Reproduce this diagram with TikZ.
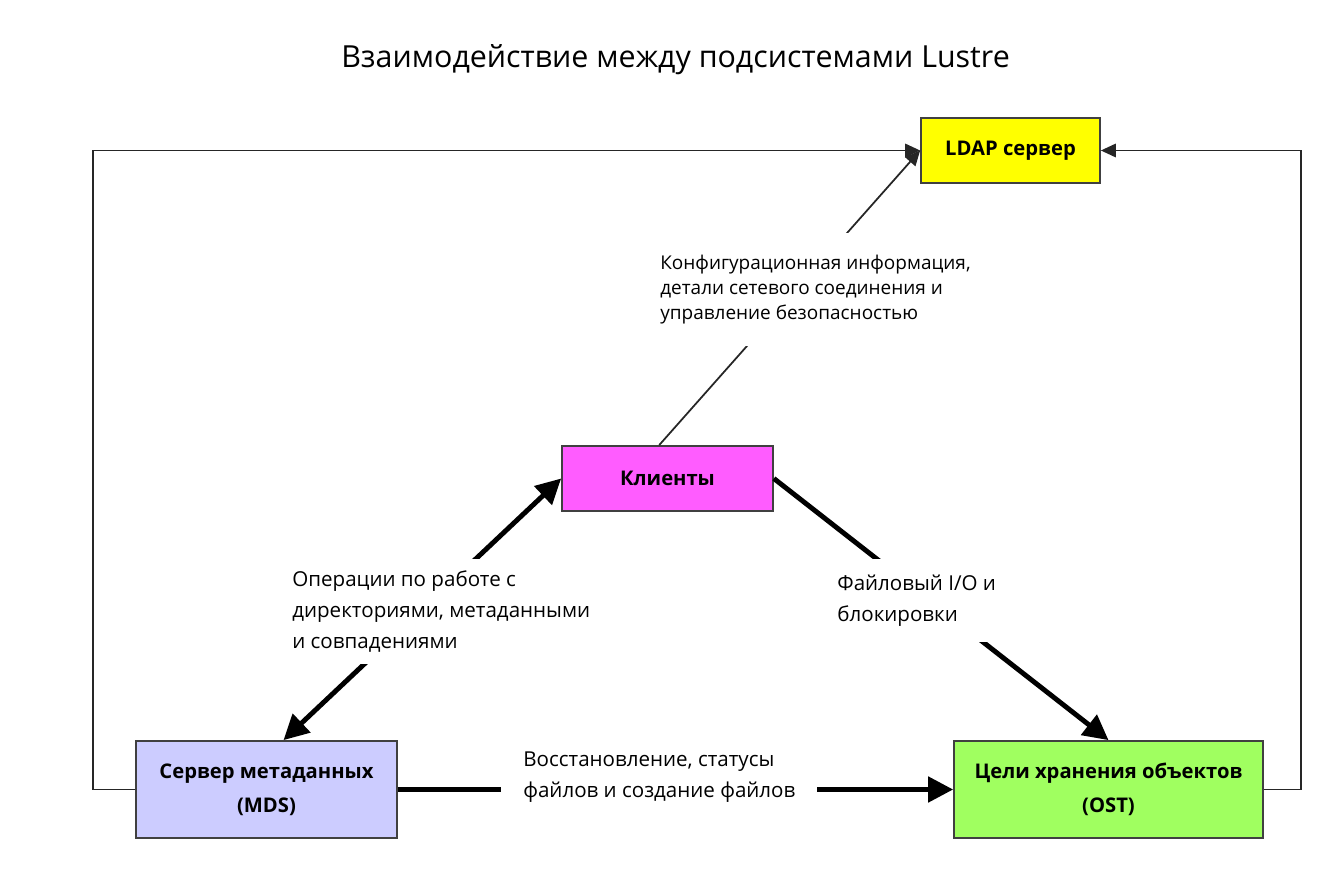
\documentclass[tikz,border=0pt]{standalone}
\usepackage{fontspec}
\setmainfont{Open Sans}
\usetikzlibrary{arrows.meta}
\definecolor{ldapfill}{RGB}{255,255,0}
\definecolor{clientfill}{RGB}{255,92,255}
\definecolor{mdsfill}{RGB}{204,204,255}
\definecolor{ostfill}{RGB}{160,255,96}
\begin{document}
\begin{tikzpicture}[x=0.02cm,y=-0.02cm,
  box/.style={draw=black!75,line width=1pt,align=center,font={\bfseries\fontsize{11.5}{19.5}\selectfont}},
  thinarrow/.style={draw=black!85,line width=1pt,-{Triangle[length=0.3cm,width=0.27cm]}},
  thickarrow/.style={line width=2.8pt,-{Triangle[length=0.5cm,width=0.5cm]}},
  lbl/.style={fill=white,align=left,anchor=west,inner xsep=0.1cm,font={\fontsize{11.7}{17.6}\selectfont}}]
\useasboundingbox (0,0) rectangle (1338,881);
\node[font={\fontsize{17.3}{20}\selectfont}] (title) at (675.5,60) {Взаимодействие между подсистемами Lustre};

\node[box,fill=ldapfill,minimum width=3.58cm,minimum height=1.3cm] (ldap) at (1010.5,150.5) {LDAP сервер};
\node[box,fill=clientfill,minimum width=4.22cm,minimum height=1.3cm] (clients) at (667.5,478.5) {Клиенты};
\node[box,fill=mdsfill,minimum width=5.22cm,minimum height=1.94cm] (mds) at (266.5,789.5) {Сервер метаданных\\(MDS)};
\node[box,fill=ostfill,minimum width=6.18cm,minimum height=1.94cm] (ost) at (1108.5,789.5) {Цели хранения объектов\\(OST)};

\draw[thinarrow] (mds.west) -- ++(-42,0) |- (ldap.west);
\draw[thinarrow] (ost.east) -- ++(37,0) |- (ldap.east);
\draw[thinarrow] (clients.104) -- (ldap.west);
\draw[thickarrow,{Triangle[length=0.5cm,width=0.5cm]}-{Triangle[length=0.5cm,width=0.5cm]}] (mds.71) -- (clients.west);
\draw[thickarrow] (clients.east) -- (ost.north);
\draw[thickarrow] (mds.east) -- (ost.west);

\node[lbl,inner ysep=0.44cm,font={\fontsize{10.8}{14.2}\selectfont}] (cfglabel) at (655,289.5) {Конфигурационная информация,\\детали сетевого соединения и\\управление безопасностью};
\node[lbl,inner ysep=0.24cm] (opslabel) at (287,611.5) {Операции по работе с\\директориями, метаданными\\и совпадениями};
\node[lbl,inner ysep=0.32cm] (iolabel) at (832,600.5) {Файловый I/O и\\блокировки};
\node[lbl,inner xsep=0.44cm,inner ysep=0.1cm] (reclabel) at (501,777) {Восстановление, статусы\\файлов и создание файлов};
\end{tikzpicture}
\end{document}
